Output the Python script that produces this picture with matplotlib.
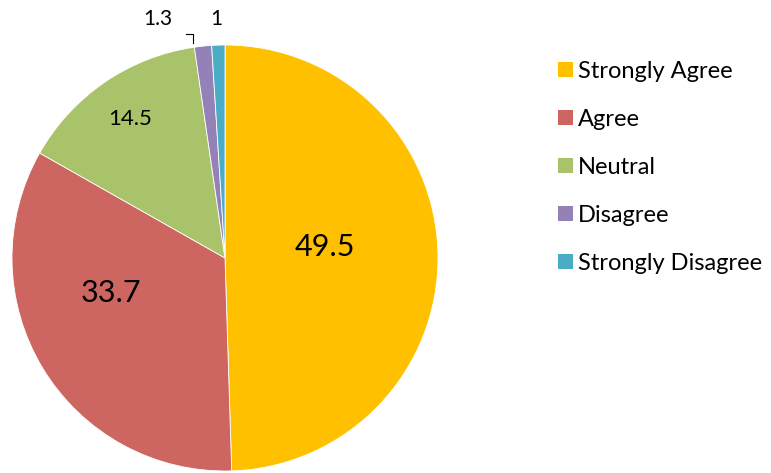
import matplotlib
matplotlib.use("Agg")
import matplotlib.pyplot as plt
import numpy as np

plt.rcParams['font.family'] = ['Lato', 'DejaVu Sans']

categories = ["Strongly Agree", "Agree", "Neutral", "Disagree", "Strongly Disagree"]
values = [49.5, 33.7, 14.5, 1.3, 1]
value_labels = ["49.5", "33.7", "14.5", "1.3", "1"]
colors = ["#FFC000", "#CD6660", "#A9C36A", "#9481B8", "#4BACC6"]

W, H = 771, 473
fig = plt.figure(figsize=(W / 100, H / 100), dpi=100)

# pie area: centre (225, 258) px, radius 213 px
cx, cy, r = 225, 258, 213
ax = fig.add_axes([(cx - r) / W, (H - cy - r) / H, 2 * r / W, 2 * r / H])
wedges, _ = ax.pie(values, colors=colors, startangle=90, counterclock=False,
                   radius=1, wedgeprops=dict(edgecolor="white", linewidth=0.6))
ax.set_xlim(-1, 1)
ax.set_ylim(-1, 1)
ax.set_aspect("equal")
ax.axis("off")

# label placement (radius, angle offset from wedge middle, font size)
label_style = [(0.47, 5.5, 22), (0.56, -14, 22), (0.79, 0, 16), None, None]
for w, lab, st in zip(wedges, value_labels, label_style):
    if st is None:
        continue
    rad, off, fs = st
    mid = np.deg2rad((w.theta1 + w.theta2) / 2 + off)
    ax.text(rad * np.cos(mid), rad * np.sin(mid), lab, ha="center", va="center",
            fontsize=fs, color="black")

# small slices labelled outside the pie
ax.text(-0.315, 1.122, value_labels[3], ha="center", va="center", fontsize=15, clip_on=False)
ax.text(-0.042, 1.122, value_labels[4], ha="center", va="center", fontsize=15, clip_on=False)
ax.plot([-0.183, -0.150, -0.150], [1.052, 1.052, 1.009], color="black", lw=0.8, clip_on=False)

leg = fig.legend(wedges, categories, loc="upper left",
                 bbox_to_anchor=(558 / W, 1 - 61 / H), frameon=False,
                 fontsize=17, handlelength=0.63, handleheight=0.63,
                 handletextpad=0.22, labelspacing=1.14, borderpad=0, borderaxespad=0)
for h in leg.legend_handles:
    h.set_edgecolor("none")

fig.savefig("out.png", dpi=100)
